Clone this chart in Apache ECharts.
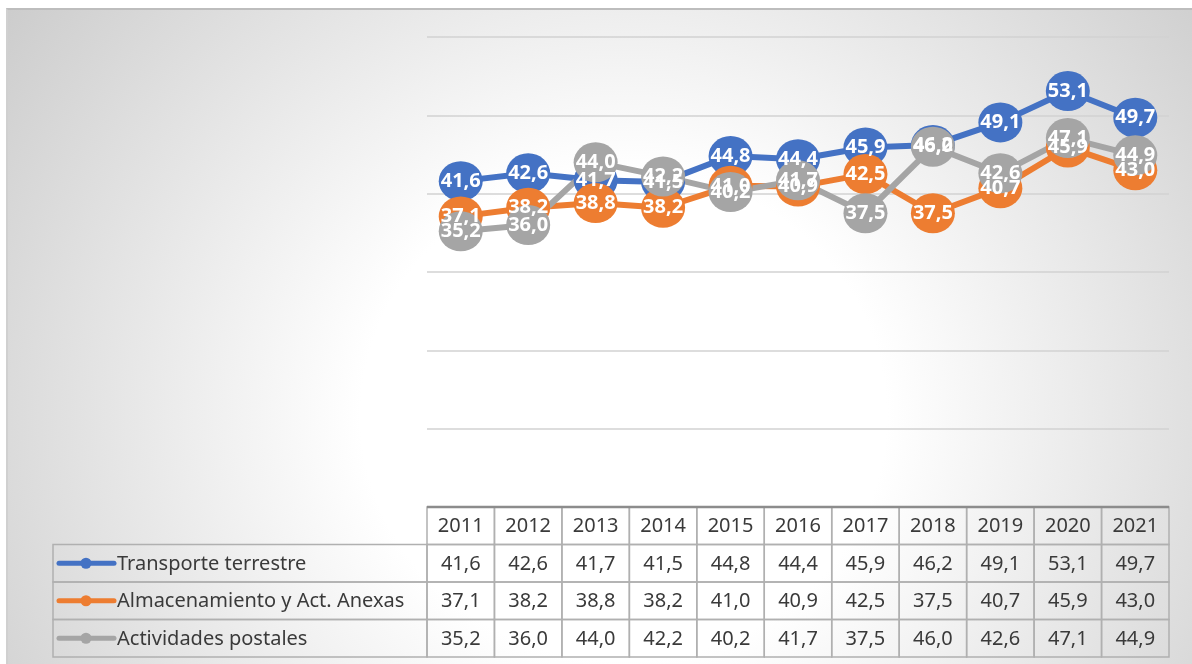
<!DOCTYPE html>
<html>
<head>
<meta charset="utf-8">
<script src="https://cdn.jsdelivr.net/npm/echarts@6/dist/echarts.min.js"></script>
<style>
    html, body { margin: 0; padding: 0; background: #fff; }
    #frame {
        position: absolute; left: 6px; top: 8px; width: 1186px; height: 656px;
        box-sizing: border-box;
        border-top: 2px solid #bdbdbd; border-left: 2px solid #d0d0d0;
        background: radial-gradient(ellipse 74% 125% at 52% 62%, #ffffff 0%, #ffffff 30%, #c0c0c0 100%);
    }
    #chart { position: absolute; left: 0; top: 0; width: 1192px; height: 664px; }
</style>
</head>
<body>
<div id="frame"></div>
<div id="chart"></div>
<script>
const years = ["2011", "2012", "2013", "2014", "2015", "2016", "2017", "2018", "2019", "2020", "2021"];
const transporte = [41.6, 42.6, 41.7, 41.5, 44.8, 44.4, 45.9, 46.2, 49.1, 53.1, 49.7];
const almacenamiento = [37.1, 38.2, 38.8, 38.2, 41.0, 40.9, 42.5, 37.5, 40.7, 45.9, 43.0];
const postales = [35.2, 36.0, 44.0, 42.2, 40.2, 41.7, 37.5, 46.0, 42.6, 47.1, 44.9];
const seriesNames = ["Transporte terrestre", "Almacenamiento y Act. Anexas", "Actividades postales"];
const seriesColors = ["#4472c4", "#ed7d31", "#a5a5a5"];
const seriesData = [transporte, almacenamiento, postales];

const fmt = v => v.toFixed(1).replace(".", ",");

// plot / table geometry
const gridLeft = 427, gridRight = 1169, gridTop = 37, gridBottom = 507;
const colW = (gridRight - gridLeft) / years.length;
const rowH = 37.5;
const legendLeft = 53;
const font = "Noto Sans";

let chart = echarts.init(document.getElementById("chart"));

// data table under the plot
let table = [];
const cellStyle = { fill: "rgba(0,0,0,0)", stroke: "#b0b0b0", lineWidth: 1.5 };
const textStyle = { fontFamily: font, fontSize: 20, fill: "#3a3a3a", align: "center", verticalAlign: "middle" };
years.forEach((y, i) => {
    let x = gridLeft + i * colW;
    table.push({ type: "rect", shape: { x: x, y: gridBottom, width: colW, height: rowH }, style: cellStyle, silent: true });
    table.push({ type: "text", x: x + colW / 2, y: gridBottom + rowH / 2 + 1, style: Object.assign({ text: y }, textStyle), silent: true });
});
seriesData.forEach((arr, r) => {
    let top = gridBottom + rowH * (r + 1);
    table.push({ type: "rect", shape: { x: legendLeft, y: top, width: gridLeft - legendLeft, height: rowH }, style: cellStyle, silent: true });
    table.push({ type: "line", shape: { x1: 59, y1: top + rowH / 2, x2: 114, y2: top + rowH / 2 }, style: { stroke: seriesColors[r], lineWidth: 5, lineCap: "round" }, silent: true });
    table.push({ type: "circle", shape: { cx: 86, cy: top + rowH / 2, r: 5.5 }, style: { fill: seriesColors[r] }, silent: true });
    table.push({ type: "text", x: 117, y: top + rowH / 2 + 1, style: Object.assign({}, textStyle, { text: seriesNames[r], align: "left" }), silent: true });
    arr.forEach((v, i) => {
        let x = gridLeft + i * colW;
        table.push({ type: "rect", shape: { x: x, y: top, width: colW, height: rowH }, style: cellStyle, silent: true });
        table.push({ type: "text", x: x + colW / 2, y: top + rowH / 2 + 1, style: Object.assign({ text: fmt(v) }, textStyle), silent: true });
    });
});
table.push({ type: "line", shape: { x1: gridLeft, y1: gridBottom, x2: gridRight, y2: gridBottom }, style: { stroke: "#8c8c8c", lineWidth: 2.5 }, silent: true, z: 10 });

chart.setOption({
    backgroundColor: "transparent",
    animation: false,
    grid: {
        left: gridLeft,
        right: 1192 - gridRight,
        top: gridTop,
        bottom: 664 - gridBottom,
    },
    xAxis: {
        type: "category",
        data: years,
        boundaryGap: true,
        axisLine: { show: false },
        axisTick: { show: false },
        axisLabel: { show: false },
    },
    yAxis: {
        type: "value",
        min: 0,
        max: 60,
        interval: 10,
        axisLabel: { show: false },
        splitLine: {
            lineStyle: { color: "#d2d2d2", width: 1.5 },
        },
    },
    graphic: table,
    series: seriesData.map((arr, r) => ({
        name: seriesNames[r],
        type: "line",
        data: arr,
        symbol: "circle",
        symbolSize: [44, 40],
        showAllSymbol: true,
        lineStyle: { color: seriesColors[r], width: 6 },
        itemStyle: { color: seriesColors[r] },
        label: {
            show: true,
            position: "inside",
            color: "#fff",
            fontFamily: font,
            fontWeight: "bold",
            fontSize: 20,
            formatter: p => fmt(p.value),
        },
    })),
});
</script>
</body>
</html>
